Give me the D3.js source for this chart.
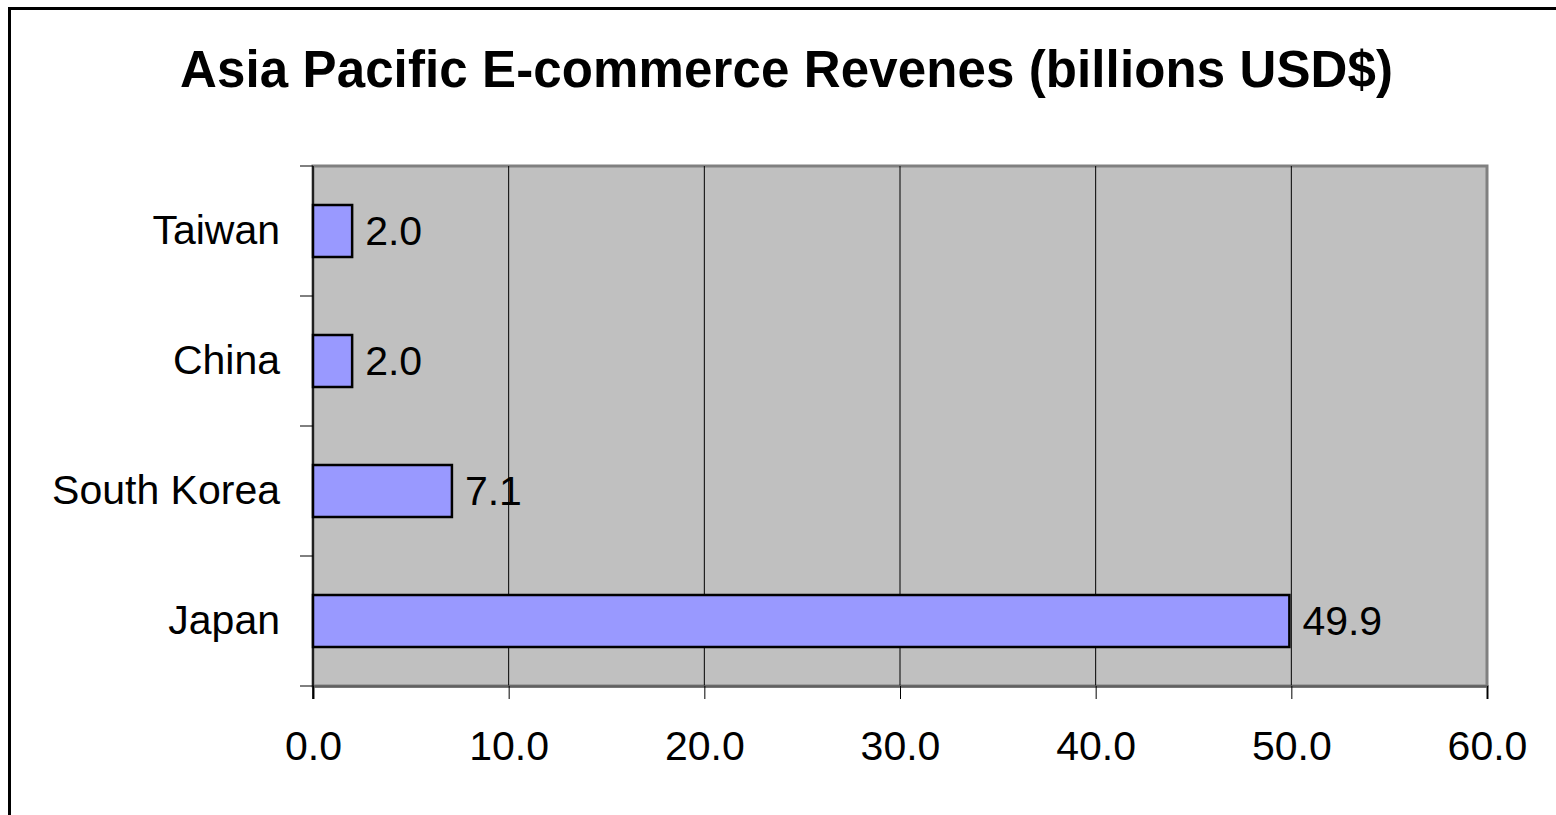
<!DOCTYPE html>
<html>
<head>
<meta charset="utf-8">
<script src="https://cdn.jsdelivr.net/npm/d3@7"></script>
<style>
  html, body { margin: 0; padding: 0; background: #fff; }
  svg { display: block; }
  text { font-family: "Liberation Sans", Arial, sans-serif; fill: #000; }
</style>
</head>
<body>
<svg id="chart" width="1556" height="815"></svg>
<script>
// Revenue by market, billions of USD
const categories = ["Taiwan", "China", "South Korea", "Japan"];
const revenues = [2.0, 2.0, 7.1, 49.9];
const xTicks = [0, 10, 20, 30, 40, 50, 60];
const chartTitle = "Asia Pacific E-commerce Revenes (billions USD$)";

const svg = d3.select("#chart");
const W = 1556, H = 815;

// Chart frame (extends past the right and bottom edges)
svg.append("rect")
  .attr("x", 9.5).attr("y", 8.5)
  .attr("width", W + 20).attr("height", H + 20)
  .attr("fill", "#fff").attr("stroke", "#000").attr("stroke-width", 3);

const plot = { left: 313, top: 166, right: 1487, bottom: 686 };

const x = d3.scaleLinear().domain([0, 60]).range([plot.left, plot.right]);
const y = d3.scaleBand().domain(categories)
  .range([plot.top, plot.bottom])
  .paddingInner(0.6).paddingOuter(0.3);

// Plot area background
svg.append("rect")
  .attr("x", plot.left).attr("y", plot.top)
  .attr("width", plot.right - plot.left).attr("height", plot.bottom - plot.top)
  .attr("fill", "#c0c0c0").attr("stroke", "#808080").attr("stroke-width", 3);

// Vertical gridlines
svg.append("g").selectAll("line")
  .data(xTicks.filter(d => d > 0 && d < 60))
  .join("line")
  .attr("x1", d => x(d)).attr("x2", d => x(d))
  .attr("y1", plot.top).attr("y2", plot.bottom)
  .attr("stroke", "#000").attr("stroke-width", 1);

// Bars
svg.append("g").selectAll("rect")
  .data(categories)
  .join("rect")
  .attr("x", x(0))
  .attr("y", d => y(d))
  .attr("width", (d, i) => x(revenues[i]) - x(0))
  .attr("height", y.bandwidth())
  .attr("fill", "#9999ff")
  .attr("stroke", "#000").attr("stroke-width", 2.5);

// Value labels
svg.append("g").selectAll("text")
  .data(categories)
  .join("text")
  .attr("x", (d, i) => x(revenues[i]) + 13)
  .attr("y", d => y(d) + y.bandwidth() / 2)
  .attr("dy", "0.35em")
  .attr("font-size", 41)
  .text((d, i) => revenues[i].toFixed(1));

// X axis
const xAxis = d3.axisBottom(x)
  .tickValues(xTicks)
  .tickFormat(d3.format(".1f"))
  .tickSize(13)
  .tickPadding(32);
const gx = svg.append("g")
  .attr("transform", `translate(0,${plot.bottom})`)
  .call(xAxis);
gx.select(".domain").attr("stroke", "#606060").attr("stroke-width", 2.5);
gx.selectAll(".tick line").attr("stroke", "#000").attr("stroke-width", 1);
gx.selectAll(".tick text")
  .attr("font-size", 41)
  .attr("font-family", "Liberation Sans, Arial, sans-serif")
  .attr("fill", "#000");

// Y axis: category labels, ticks at band boundaries
const yAxis = d3.axisLeft(y).tickSize(0).tickPadding(33);
const gy = svg.append("g")
  .attr("transform", `translate(${plot.left},0)`)
  .call(yAxis);
gy.select(".domain").remove();
gy.selectAll(".tick text")
  .attr("font-size", 41)
  .attr("font-family", "Liberation Sans, Arial, sans-serif")
  .attr("fill", "#000");

const step = y.step();
const boundaries = d3.range(categories.length + 1).map(i => plot.top + i * step);
svg.append("g").selectAll("line")
  .data(boundaries)
  .join("line")
  .attr("x1", plot.left - 13).attr("x2", plot.left)
  .attr("y1", d => d).attr("y2", d => d)
  .attr("stroke", "#000").attr("stroke-width", 1);

svg.append("line")
  .attr("x1", plot.left).attr("x2", plot.left)
  .attr("y1", plot.top).attr("y2", plot.bottom + 13)
  .attr("stroke", "#000").attr("stroke-width", 1.5);

// Title
svg.append("text")
  .attr("x", 786.5).attr("y", 87)
  .attr("text-anchor", "middle")
  .attr("font-size", 51)
  .attr("font-weight", "bold")
  .attr("textLength", 1213)
  .attr("lengthAdjust", "spacing")
  .text(chartTitle);
</script>
</body>
</html>
